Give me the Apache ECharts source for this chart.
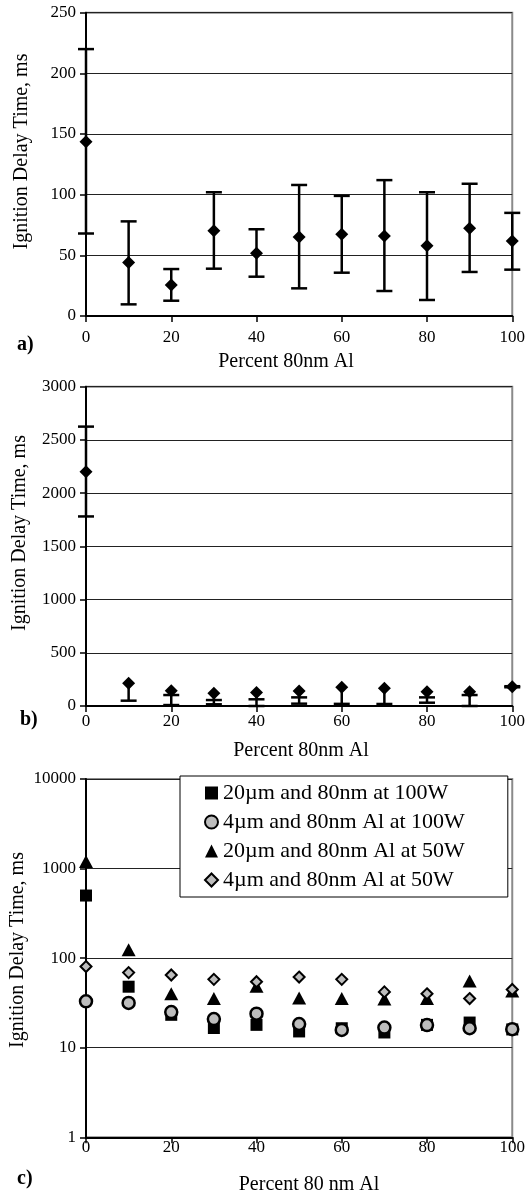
<!DOCTYPE html>
<html>
<head>
<meta charset="utf-8">
<script src="https://cdn.jsdelivr.net/npm/echarts@6/dist/echarts.min.js"></script>
<style>
html,body{margin:0;padding:0;background:#fff;}
#chart{width:528px;height:1197px;}
</style>
</head>
<body>
<div id="chart"></div>
<script>
// ---------- data ----------
var percent = [0, 10, 20, 30, 40, 50, 60, 70, 80, 90, 100];
var xTicks = [0, 20, 40, 60, 80, 100];

// panel a
var aMean = [143.7, 44, 25.5, 70.3, 51.7, 65.1, 67.3, 66, 58, 72.3, 61.8];
var aHigh = [220, 78, 38.7, 102, 71.5, 108, 99, 112, 102, 109, 85];
var aLow  = [68, 9.6, 12.6, 39, 32.4, 22.8, 35.7, 20.6, 13.2, 36.3, 38.2];
var aTicks = [0, 50, 100, 150, 200, 250];

// panel b (null = cap hidden behind the marker)
var bMean = [2200, 213, 144, 119, 128, 141, 175, 166, 134, 134, 181];
var bHigh = [2625, null, 103, 56, 63, 81, null, null, 81, 103, 186];
var bLow  = [1781, 50, 9, 16, 0, 22, 20, 19, 31, 0, 176];
var bTicks = [0, 500, 1000, 1500, 2000, 2500, 3000];

// panel c
var cNames = ['20\u00b5m and 80nm at 100W', '4\u00b5m and 80nm Al at 100W', '20\u00b5m and 80nm Al at 50W', '4\u00b5m and 80nm Al at 50W'];
var c20at100 = [500, 48, 23.3, 16.6, 18, 15.2, 16.5, 14.8, 18, 19.1, 16];
var c4at100  = [33, 31.6, 25, 20.9, 24, 18.4, 15.8, 16.8, 17.9, 16.5, 16.1];
var c20at50  = [1200, 124, 40, 35.4, 48.7, 36, 35.4, 35, 35.4, 55.5, 43];
var c4at50   = [80.6, 69, 64.8, 58, 54.6, 61.5, 58, 42, 40, 35.4, 44.7];
var cTicks = [1, 10, 100, 1000, 10000];

// ---------- helpers ----------
var FONT = '"Liberation Serif", "Times New Roman", serif';
function plain(v) { return String(v); }
function pairs(ys) { return percent.map(function (x, i) { return [x, ys[i]]; }); }
function errData(hi, lo) { return percent.map(function (x, i) { return [x, lo[i], hi[i] == null ? '-' : hi[i]]; }); }
function errRender(meanArr, hiArr) {
  return function (params, api) {
    var i = params.dataIndex;
    var x = api.value(0), lo = api.value(1);
    var hi = hiArr[i];
    var top = hi == null ? meanArr[i] : Math.max(hi, meanArr[i]);
    var pLo = api.coord([x, lo]);
    var pTop = api.coord([x, top]);
    var st = { stroke: '#000', lineWidth: 2.5 };
    var hw = 8;
    var children = [
      { type: 'line', shape: { x1: pLo[0], y1: pLo[1], x2: pTop[0], y2: pTop[1] }, style: st },
      { type: 'line', shape: { x1: pLo[0] - hw, y1: pLo[1], x2: pLo[0] + hw, y2: pLo[1] }, style: st }
    ];
    if (hi != null) {
      var pHi = api.coord([x, hi]);
      children.push({ type: 'line', shape: { x1: pHi[0] - hw, y1: pHi[1], x2: pHi[0] + hw, y2: pHi[1] }, style: st });
    }
    return { type: 'group', children: children };
  };
}
function xAxis(gi, margin) {
  return {
    type: 'value', gridIndex: gi, min: 0, max: 100, interval: 20,
    axisLine: { lineStyle: { color: '#000', width: 2 } },
    axisTick: { show: true, inside: false, length: 6, lineStyle: { color: '#000', width: 1.5 } },
    axisLabel: { color: '#000', fontFamily: FONT, fontSize: 17, margin: margin, formatter: plain },
    splitLine: { show: false }
  };
}
function yAxisBase(gi) {
  return {
    gridIndex: gi,
    axisLine: { show: true, lineStyle: { color: '#000', width: 2 } },
    axisTick: { show: true, inside: false, length: 6, lineStyle: { color: '#000', width: 1.5 } },
    axisLabel: { color: '#000', fontFamily: FONT, fontSize: 17, margin: 10, formatter: plain },
    splitLine: { show: true, lineStyle: { color: '#222', width: 1 } },
    minorTick: { show: false }
  };
}

var yA = yAxisBase(0); yA.type = 'value'; yA.min = aTicks[0]; yA.max = aTicks[aTicks.length - 1]; yA.interval = 50;
var yB = yAxisBase(1); yB.type = 'value'; yB.min = bTicks[0]; yB.max = bTicks[bTicks.length - 1]; yB.interval = 500;
var yC = yAxisBase(2); yC.type = 'log'; yC.logBase = 10; yC.min = cTicks[0]; yC.max = cTicks[cTicks.length - 1];

var gridCommon = { left: 86, right: 15, show: true, borderColor: '#8a8a8a', borderWidth: 2, backgroundColor: 'transparent' };

var option = {
  backgroundColor: '#fff',
  animation: false,
  grid: [
    Object.assign({}, gridCommon, { top: 12.7, height: 303.3 }),
    Object.assign({}, gridCommon, { top: 386.7, height: 319.3 }),
    Object.assign({}, gridCommon, { top: 779, height: 358.3 })
  ],
  xAxis: [xAxis(0, 13), xAxis(1, 7), xAxis(2, 2)],
  yAxis: [yA, yB, yC],
  legend: {
    orient: 'vertical',
    left: 180, top: 776,
    padding: [6, 43, 6, 24],
    itemGap: 7,
    itemWidth: 13, itemHeight: 13,
    backgroundColor: '#fff',
    borderColor: '#000', borderWidth: 1,
    textStyle: { fontFamily: FONT, fontSize: 22, color: '#000' },
    selectedMode: false,
    data: [
      { name: cNames[0], icon: 'rect' },
      { name: cNames[1], icon: 'circle' },
      { name: cNames[2], icon: 'triangle' },
      { name: cNames[3], icon: 'diamond' }
    ]
  },
  series: [
    { type: 'custom', xAxisIndex: 0, yAxisIndex: 0, data: errData(aHigh, aLow), renderItem: errRender(aMean, aHigh), z: 3, silent: true },
    { type: 'scatter', xAxisIndex: 0, yAxisIndex: 0, data: pairs(aMean), symbol: 'diamond', symbolSize: 13, itemStyle: { color: '#000', opacity: 1 }, z: 4 },
    { type: 'custom', xAxisIndex: 1, yAxisIndex: 1, data: errData(bHigh, bLow), renderItem: errRender(bMean, bHigh), z: 3, silent: true },
    { type: 'scatter', xAxisIndex: 1, yAxisIndex: 1, data: pairs(bMean), symbol: 'diamond', symbolSize: 13, itemStyle: { color: '#000', opacity: 1 }, z: 4 },
    { name: cNames[0], type: 'scatter', xAxisIndex: 2, yAxisIndex: 2, data: pairs(c20at100), symbol: 'rect', symbolSize: 12,
      itemStyle: { color: '#000', opacity: 1 }, z: 4 },
    { name: cNames[1], type: 'scatter', xAxisIndex: 2, yAxisIndex: 2, data: pairs(c4at100), symbol: 'circle', symbolSize: 12,
      itemStyle: { color: '#bdbdbd', borderColor: '#000', borderWidth: 2.5, opacity: 1 }, z: 5 },
    { name: cNames[2], type: 'scatter', xAxisIndex: 2, yAxisIndex: 2, data: pairs(c20at50), symbol: 'triangle', symbolSize: [14, 13],
      itemStyle: { color: '#000', opacity: 1 }, z: 6 },
    { name: cNames[3], type: 'scatter', xAxisIndex: 2, yAxisIndex: 2, data: pairs(c4at50), symbol: 'diamond', symbolSize: 11,
      itemStyle: { color: '#bdbdbd', borderColor: '#000', borderWidth: 2, opacity: 1 }, z: 7 }
  ],
  graphic: [
    { type: 'text', x: 22, y: 151.5, rotation: Math.PI / 2, style: { text: 'Ignition Delay Time, ms', font: '20px ' + FONT, fill: '#000', align: 'center', verticalAlign: 'middle' } },
    { type: 'text', x: 20, y: 533, rotation: Math.PI / 2, style: { text: 'Ignition Delay Time, ms', font: '20px ' + FONT, fill: '#000', align: 'center', verticalAlign: 'middle' } },
    { type: 'text', x: 18, y: 950, rotation: Math.PI / 2, style: { text: 'Ignition Delay Time, ms', font: '20px ' + FONT, fill: '#000', align: 'center', verticalAlign: 'middle' } },
    { type: 'text', x: 286, y: 362, style: { text: 'Percent 80nm Al', font: '20px ' + FONT, fill: '#000', align: 'center', verticalAlign: 'middle' } },
    { type: 'text', x: 301, y: 751, style: { text: 'Percent 80nm Al', font: '20px ' + FONT, fill: '#000', align: 'center', verticalAlign: 'middle' } },
    { type: 'text', x: 309, y: 1185, style: { text: 'Percent 80 nm Al', font: '20px ' + FONT, fill: '#000', align: 'center', verticalAlign: 'middle' } },
    { type: 'text', x: 17, y: 345, style: { text: 'a)', font: 'bold 20px ' + FONT, fill: '#000', align: 'left', verticalAlign: 'middle' } },
    { type: 'text', x: 20, y: 720, style: { text: 'b)', font: 'bold 20px ' + FONT, fill: '#000', align: 'left', verticalAlign: 'middle' } },
    { type: 'text', x: 17, y: 1179, style: { text: 'c)', font: 'bold 20px ' + FONT, fill: '#000', align: 'left', verticalAlign: 'middle' } }
  ]
};

var chart = echarts.init(document.getElementById('chart'), null, { renderer: 'canvas' });
chart.setOption(option);
</script>
</body>
</html>
